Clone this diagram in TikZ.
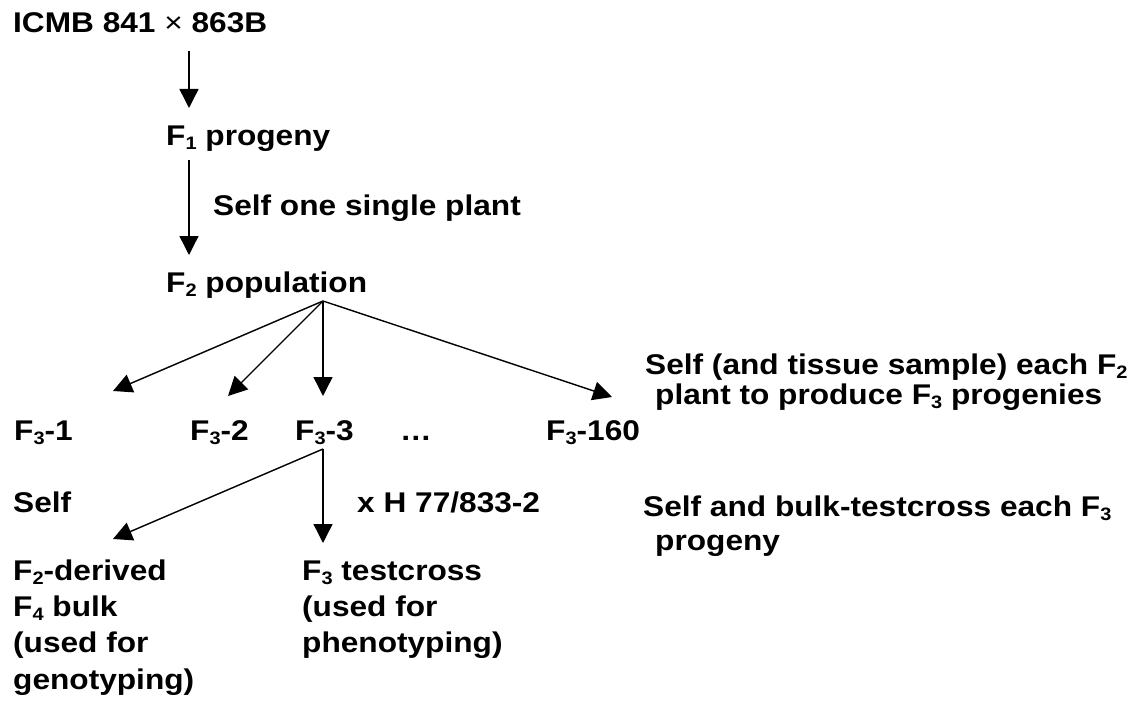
\documentclass[tikz,border=0pt]{standalone}
\usepackage{fontspec}
\setmainfont[FakeStretch=1.11]{Liberation Sans}
\usetikzlibrary{arrows.meta}
\newcommand{\lowsub}[1]{\raisebox{-4pt}{\fontsize{18}{18}\selectfont #1}}
\begin{document}
\begin{tikzpicture}[x=1pt,y=-1pt,
  lbl/.style={inner sep=0pt, anchor=base west, font=\fontsize{28.5}{34}\selectfont\bfseries},
  arr/.style={-{Triangle[length=19pt,width=19pt]}, line width=1.4pt}]
\useasboundingbox (0,0) rectangle (1140,706);
% texts
\node[lbl] (icmb) at (13,33) {ICMB 841 {\mdseries ×} 863B};
\node[lbl] (f1) at (166,146) {F\lowsub{1} progeny};
\node[lbl] (selfone) at (213,215) {Self one single plant};
\node[lbl] (f2) at (166,292) {F\lowsub{2} population};
\node[lbl] (f31) at (14,440) {F\lowsub{3}-1};
\node[lbl] (f32) at (190,440) {F\lowsub{3}-2};
\node[lbl] (f33) at (295,440) {F\lowsub{3}-3};
\node[lbl] (dots) at (400,440) {…};
\node[lbl] (f3160) at (546,440) {F\lowsub{3}-160};
\node[lbl] (note1a) at (645,374) {Self (and tissue sample) each F\lowsub{2}};
\node[lbl] (note1b) at (655,404) {plant to produce F\lowsub{3} progenies};
\node[lbl] (self) at (13,512) {Self};
\node[lbl] (xh) at (357,512) {x H 77/833-2};
\node[lbl] (note2a) at (643,516) {Self and bulk-testcross each F\lowsub{3}};
\node[lbl] (note2b) at (655,550) {progeny};
\node[lbl] (d1) at (13,580) {F\lowsub{2}-derived};
\node[lbl] (d2) at (13,616) {F\lowsub{4} bulk};
\node[lbl] (d3) at (13,652) {(used for};
\node[lbl] (d4) at (13,689) {genotyping)};
\node[lbl] (t1) at (302,580) {F\lowsub{3} testcross};
\node[lbl] (t2) at (302,616) {(used for};
\node[lbl] (t3) at (302,652) {phenotyping)};
% connector points
\coordinate (a1s) at (189,51);
\coordinate (a1e) at (189,108);
\coordinate (a2s) at (189,160);
\coordinate (a2e) at (189,255);
\coordinate (b0) at (323,301);
\coordinate (b1) at (113,391);
\coordinate (b2) at (228,396);
\coordinate (b3) at (323,396);
\coordinate (b4) at (612,397);
\coordinate (c0) at (323,449);
\coordinate (c1) at (113,539);
\coordinate (c2) at (323,543);
% arrows
\draw[arr] (a1s) -- (a1e);
\draw[arr] (a2s) -- (a2e);
\draw[arr] (b0) -- (b1);
\draw[arr] (b0) -- (b2);
\draw[arr] (b0) -- (b3);
\draw[arr] (b0) -- (b4);
\draw[arr] (c0) -- (c1);
\draw[arr] (c0) -- (c2);
\end{tikzpicture}
\end{document}
